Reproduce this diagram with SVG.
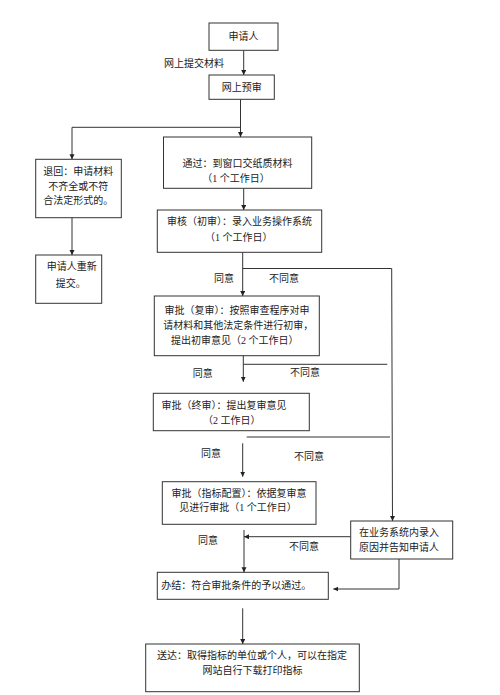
<svg xmlns="http://www.w3.org/2000/svg" width="500" height="695" viewBox="0 0 500 695">
<style>
.box{fill:#fff;stroke:#333;stroke-width:1}
.ln{fill:none;stroke:#333;stroke-width:1}
.arr{marker-end:url(#ah)}
text{font-family:"Liberation Serif","Noto Sans CJK SC",serif;font-size:10px;fill:#222}
.c{text-anchor:middle}
</style>
<defs>
<marker id="ah" markerUnits="userSpaceOnUse" markerWidth="6" markerHeight="6" refX="5" refY="2.5" orient="auto">
<path d="M0,0 L5,2.5 L0,5 z" fill="#222"/>
</marker>
</defs>
<rect width="500" height="695" fill="#fff"/>
<g id="connectors">
<line class="ln arr" x1="243.7" y1="50.3" x2="243.7" y2="75"/>
<line class="ln arr" x1="240.5" y1="99.3" x2="240.5" y2="137"/>
<polyline class="ln arr" points="240.5,127.3 72,127.3 72,159.3"/>
<line class="ln arr" x1="243.7" y1="188.3" x2="243.7" y2="210"/>
<line class="ln arr" x1="72" y1="217.7" x2="72" y2="255"/>
<line class="ln arr" x1="242.7" y1="252.3" x2="242.7" y2="296"/>
<polyline class="ln arr" points="242.7,268.5 391.7,268.5 392.5,521"/>
<line class="ln arr" x1="243.3" y1="347.3" x2="243.3" y2="381.7"/>
<line class="ln" x1="243.3" y1="364.3" x2="387.3" y2="364.3"/>
<line class="ln" x1="246.7" y1="437" x2="390" y2="437"/>
<line class="ln arr" x1="242.7" y1="443.3" x2="242.7" y2="476.7"/>
<line class="ln arr" x1="350.7" y1="536.7" x2="244" y2="536.7"/>
<line class="ln arr" x1="244" y1="530" x2="244" y2="572.3"/>
<polyline class="ln arr" points="399,559 399,589 333.3,589"/>
<line class="ln arr" x1="242.7" y1="608.3" x2="242.7" y2="644"/>
<text x="164" y="67">网上提交材料</text>
<text x="214" y="282">同意</text>
<text x="269" y="282">不同意</text>
<text x="192.7" y="377">同意</text>
<text x="290" y="376">不同意</text>
<text x="201" y="457">同意</text>
<text x="294" y="460">不同意</text>
<text x="198" y="543.5">同意</text>
<text x="289" y="550">不同意</text>
</g>
<g id="n1">
<rect class="box" x="209" y="23" width="69" height="27.3"/>
<text class="c" x="243.5" y="40">申请人</text>
</g>
<g id="n2">
<rect class="box" x="209" y="75" width="65.3" height="24.3"/>
<text class="c" x="241.7" y="90.5">网上预审</text>
</g>
<g id="n3">
<rect class="box" x="163.5" y="137" width="148.2" height="51.3"/>
<text class="c" x="237.5" y="167">通过：到窗口交纸质材料</text>
<text class="c" x="236" y="182">（1 个工作日）</text>
</g>
<g id="n4">
<rect class="box" x="35.7" y="159.3" width="85.6" height="58.4"/>
<text class="c" x="78.3" y="175">退回：申请材料</text>
<text class="c" x="78.3" y="190">不齐全或不符</text>
<text class="c" x="78.3" y="204">合法定形式的。</text>
</g>
<g id="n5">
<rect class="box" x="35.7" y="255" width="66" height="48.3"/>
<text class="c" x="71.7" y="270">申请人重新</text>
<text class="c" x="70.7" y="287">提交。</text>
</g>
<g id="n6">
<rect class="box" x="157.3" y="210" width="164.4" height="42.3"/>
<text class="c" x="239.5" y="225">审核（初审）：录入业务操作系统</text>
<text class="c" x="238.8" y="241">（1 个工作日）</text>
</g>
<g id="n7">
<rect class="box" x="154.3" y="296" width="165" height="59.7"/>
<text class="c" x="237" y="313.5">审批（复审）：按照审查程序对申</text>
<text class="c" x="238.3" y="328.5">请材料和其他法定条件进行初审，</text>
<text class="c" x="234.7" y="343.5">提出初审意见（2 个工作日）</text>
</g>
<g id="n8">
<rect class="box" x="153.3" y="393.3" width="156" height="37.4"/>
<text class="c" x="224" y="408.5">审批（终审）：提出复审意见</text>
<text class="c" x="231.7" y="423.5">（2 工作日）</text>
</g>
<g id="n9">
<rect class="box" x="162.3" y="481.7" width="153.7" height="42.6"/>
<text class="c" x="239" y="497">审批（指标配置）：依据复审意</text>
<text class="c" x="238" y="511">见进行审批（1 个工作日）</text>
</g>
<g id="n10">
<rect class="box" x="350.7" y="521" width="102" height="38"/>
<text class="c" x="399" y="536">在业务系统内录入</text>
<text class="c" x="399" y="551">原因并告知申请人</text>
</g>
<g id="n11">
<rect class="box" x="157.3" y="572.3" width="171" height="27"/>
<text class="c" x="236.3" y="589">办结：符合审批条件的予以通过。</text>
</g>
<g id="n12">
<rect class="box" x="145.7" y="644" width="213.6" height="47.7"/>
<text class="c" x="252" y="658.5">送达：取得指标的单位或个人，可以在指定</text>
<text class="c" x="252.5" y="673.5">网站自行下载打印指标</text>
</g>
</svg>
